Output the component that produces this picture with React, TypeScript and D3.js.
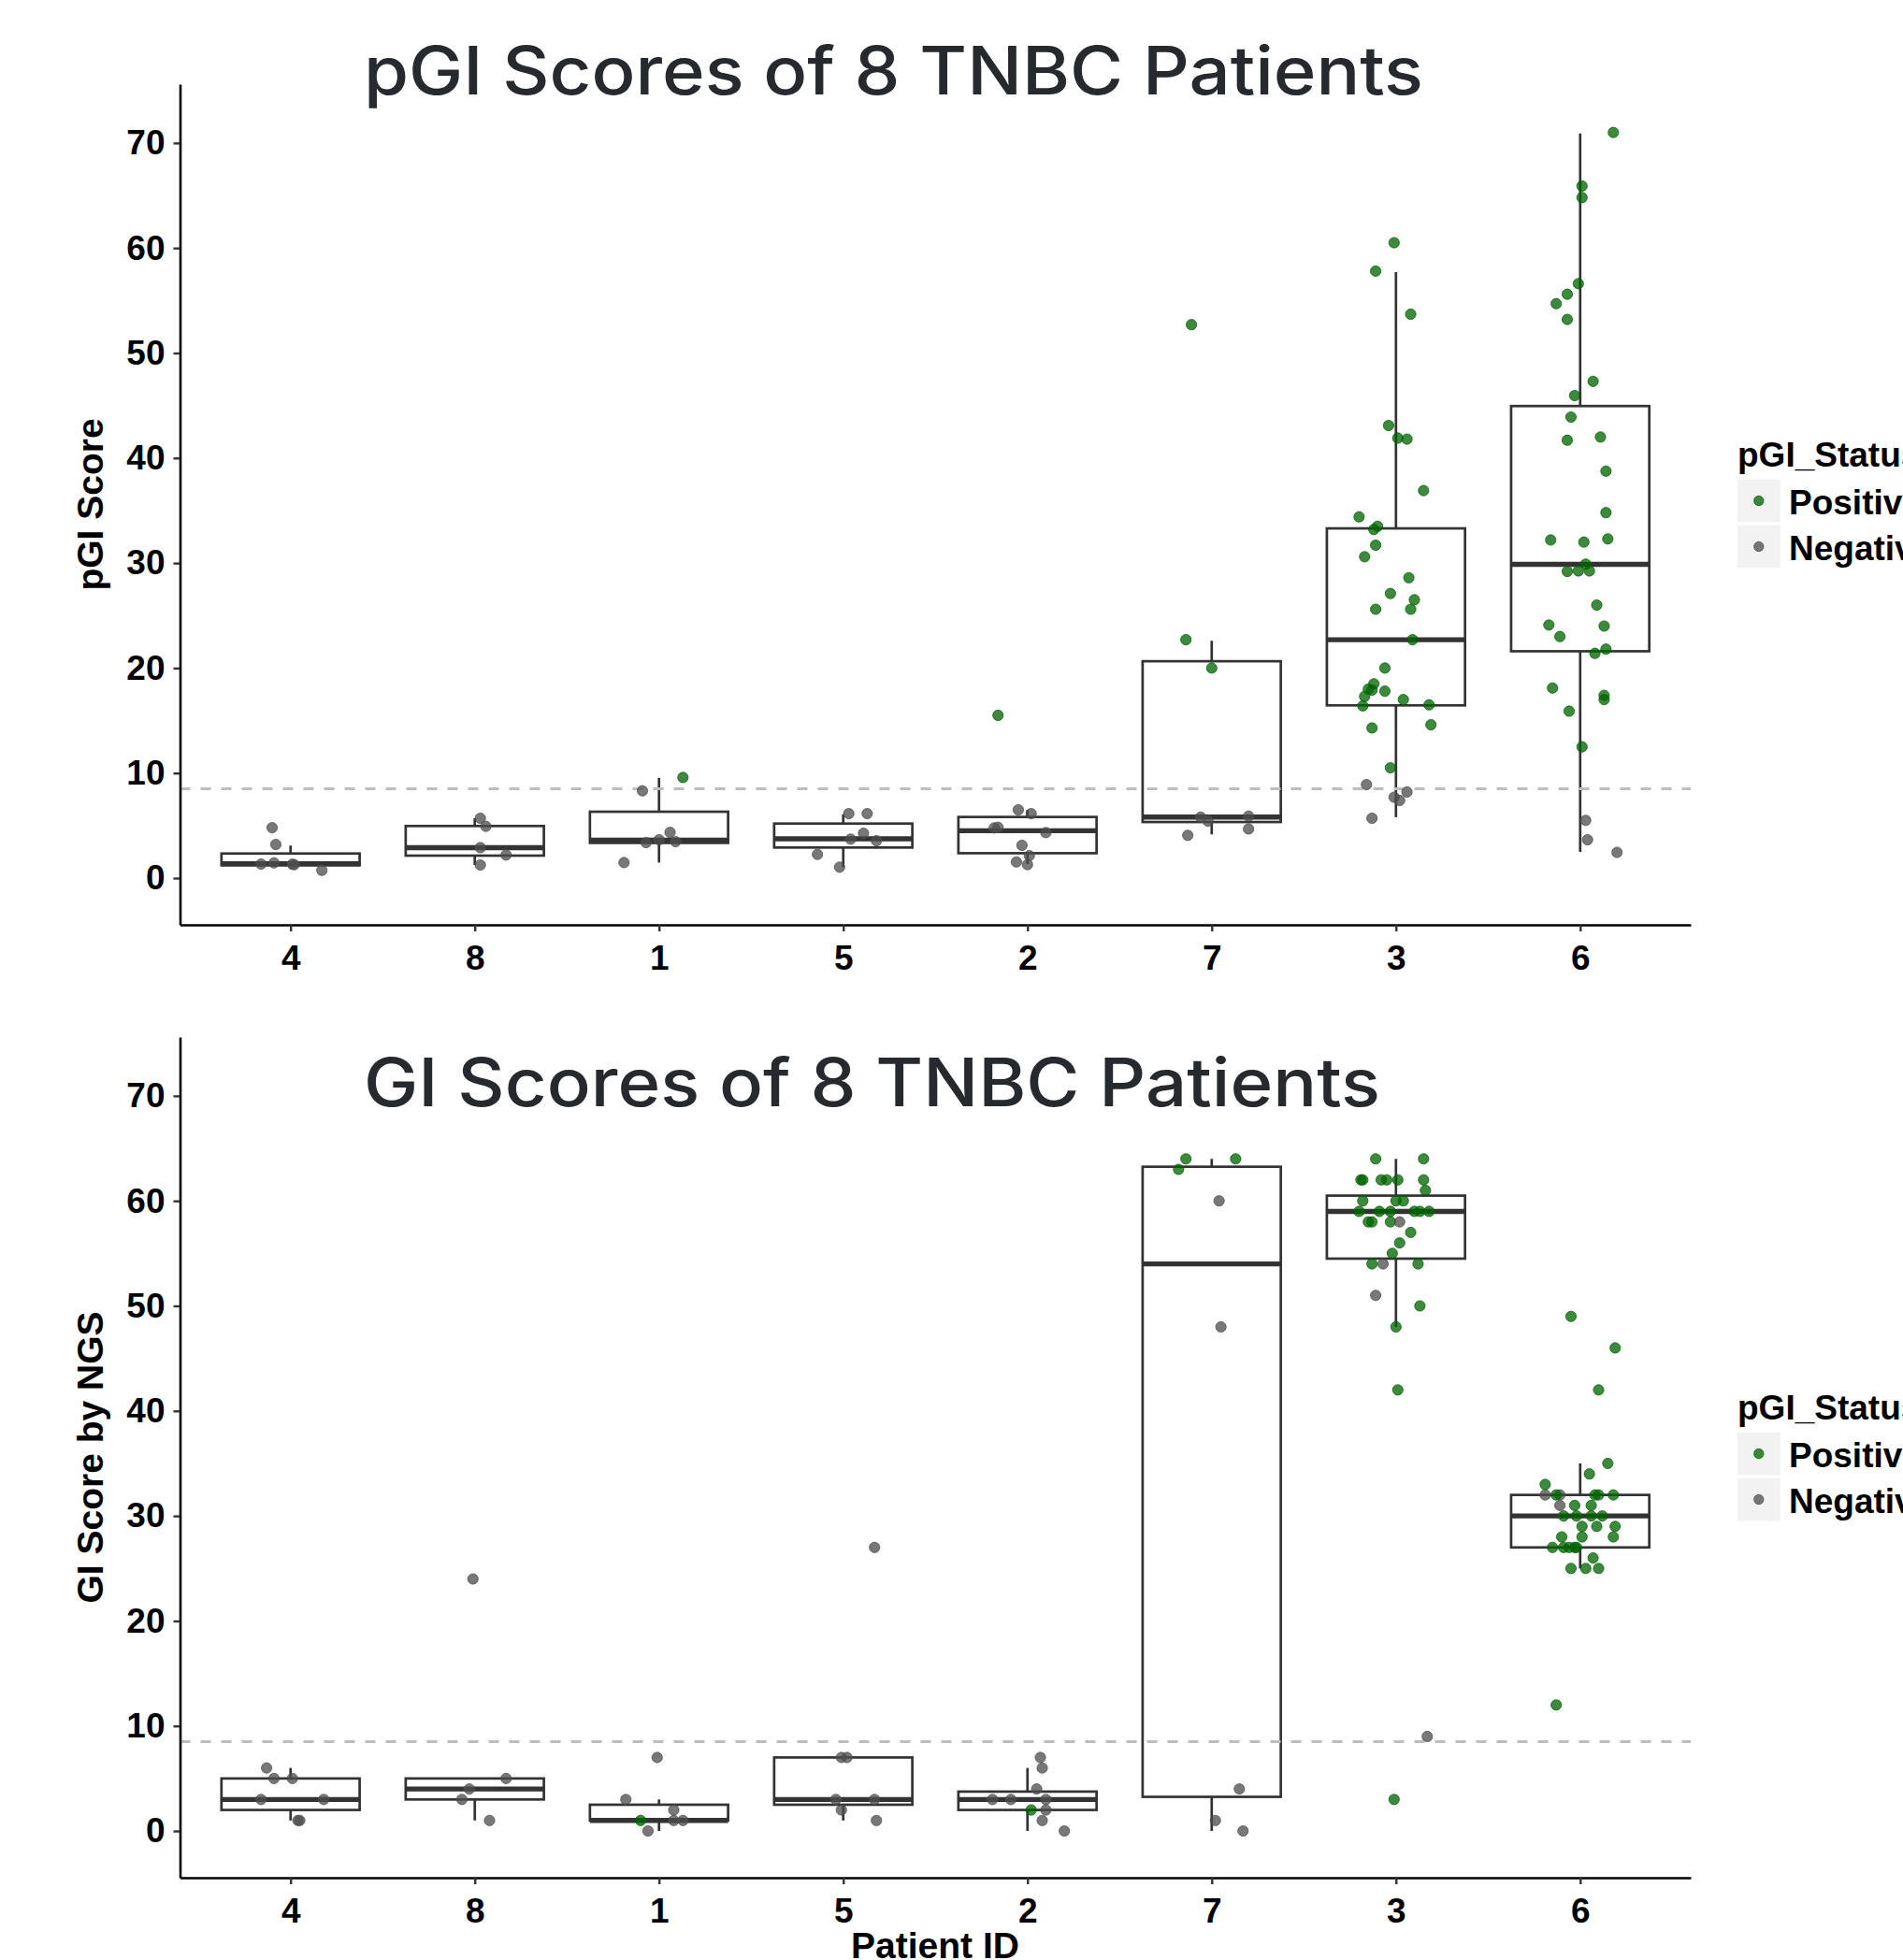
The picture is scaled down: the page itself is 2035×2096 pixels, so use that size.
import * as d3 from 'd3'
import { useRef, useEffect } from 'react'

const patients = ['4', '8', '1', '5', '2', '7', '3', '6']
const yTicks = [0, 10, 20, 30, 40, 50, 60, 70]
const statusLevels = ['Positive', 'Negative']
const threshold = 8.5

// box stats, one value per patient (same order as `patients`)
const pgiLower = [1.22, 1.25, 1.48, 1.04, 1.34, 4.16, 5.8, 2.5]
const pgiQ1 = [1.22, 2.14, 3.35, 2.91, 2.37, 5.34, 16.45, 21.6]
const pgiMedian = [1.37, 2.9, 3.62, 3.74, 4.51, 5.81, 22.7, 29.87]
const pgiQ3 = [2.34, 4.96, 6.32, 5.19, 5.82, 20.65, 33.3, 44.95]
const pgiUpper = [3.1, 5.7, 9.55, 6.08, 6.5, 22.6, 57.7, 70.9]

const giLower = [1, 1, 0, 1, 0, 0, 48, 25]
const giQ1 = [2, 3, 1, 2.5, 2, 3.25, 54.5, 27]
const giMedian = [3, 4, 1, 3, 3, 54, 59, 30]
const giQ3 = [5, 5, 2.5, 7, 3.75, 63.25, 60.5, 32]
const giUpper = [6, 5, 3, 7, 6, 64, 64, 35]

// [patient, score, status, jitter (fraction of category step)]
const pgiPoints = [
  ['4', 4.8, 'N', -0.1], ['4', 3.2, 'N', -0.08], ['4', 1.34, 'N', -0.16], ['4', 1.45, 'N', -0.09],
  ['4', 1.32, 'N', 0.01], ['4', 1.28, 'N', 0.02], ['4', 0.74, 'N', 0.17],
  ['8', 5.7, 'N', 0.03], ['8', 4.93, 'N', 0.06], ['8', 2.9, 'N', 0.03], ['8', 2.2, 'N', 0.17], ['8', 1.25, 'N', 0.03],
  ['1', 9.58, 'P', 0.13], ['1', 8.31, 'N', -0.09], ['1', 4.36, 'N', 0.06], ['1', 3.38, 'N', -0.07],
  ['1', 3.65, 'N', 0], ['1', 3.47, 'N', 0.09], ['1', 1.48, 'N', -0.19],
  ['5', 6.14, 'N', 0.03], ['5', 6.14, 'N', 0.13], ['5', 4.27, 'N', 0.11], ['5', 3.71, 'N', 0.04],
  ['5', 3.56, 'N', 0.18], ['5', 2.26, 'N', -0.14], ['5', 1.04, 'N', -0.02],
  ['2', 15.5, 'P', -0.16], ['2', 6.5, 'N', -0.05], ['2', 6.14, 'N', 0.02], ['2', 4.78, 'N', -0.18],
  ['2', 4.84, 'N', -0.16], ['2', 4.33, 'N', 0.1], ['2', 3.12, 'N', -0.03], ['2', 2.14, 'N', 0.01],
  ['2', 1.54, 'N', -0.06], ['2', 1.28, 'N', 0],
  ['7', 52.7, 'P', -0.11], ['7', 22.7, 'P', -0.14], ['7', 20.0, 'P', 0], ['7', 5.8, 'N', -0.06],
  ['7', 5.43, 'N', -0.02], ['7', 5.9, 'N', 0.2], ['7', 4.68, 'N', 0.2], ['7', 4.07, 'N', -0.13],
  ['3', 60.5, 'P', -0.01], ['3', 57.8, 'P', -0.11], ['3', 53.7, 'P', 0.08], ['3', 43.1, 'P', -0.04],
  ['3', 41.9, 'P', 0.01], ['3', 41.8, 'P', 0.06], ['3', 36.9, 'P', 0.15], ['3', 34.4, 'P', -0.2],
  ['3', 33.5, 'P', -0.1], ['3', 33.2, 'P', -0.12], ['3', 31.7, 'P', -0.11], ['3', 30.6, 'P', -0.17],
  ['3', 28.6, 'P', 0.07], ['3', 27.1, 'P', -0.03], ['3', 26.5, 'P', 0.1], ['3', 25.6, 'P', -0.11],
  ['3', 25.6, 'P', 0.08], ['3', 22.7, 'P', 0.09], ['3', 20.0, 'P', -0.06], ['3', 18.5, 'P', -0.12],
  ['3', 18.0, 'P', -0.15], ['3', 17.9, 'P', -0.13], ['3', 17.3, 'P', -0.17], ['3', 17.8, 'P', -0.06],
  ['3', 17.0, 'P', 0.04], ['3', 16.4, 'P', -0.18], ['3', 16.5, 'P', 0.18], ['3', 14.6, 'P', 0.19],
  ['3', 14.3, 'P', -0.13], ['3', 10.5, 'P', -0.03],
  ['3', 8.9, 'N', -0.16], ['3', 8.2, 'N', 0.06], ['3', 7.7, 'N', -0.01], ['3', 7.4, 'N', 0.02], ['3', 5.7, 'N', -0.13],
  ['6', 71.0, 'P', 0.18], ['6', 65.9, 'P', 0.01], ['6', 64.8, 'P', 0.01], ['6', 56.6, 'P', -0.01],
  ['6', 55.6, 'P', -0.07], ['6', 54.7, 'P', -0.13], ['6', 53.2, 'P', -0.07], ['6', 47.3, 'P', 0.07],
  ['6', 45.95, 'P', -0.03], ['6', 43.9, 'P', -0.05], ['6', 41.7, 'P', -0.07], ['6', 42.0, 'P', 0.11],
  ['6', 38.75, 'P', 0.14], ['6', 34.8, 'P', 0.14], ['6', 32.2, 'P', -0.16], ['6', 32.0, 'P', 0.02],
  ['6', 32.3, 'P', 0.15], ['6', 29.9, 'P', 0.03], ['6', 29.2, 'P', -0.07], ['6', 29.25, 'P', -0.01],
  ['6', 29.25, 'P', 0.05], ['6', 26.0, 'P', 0.09], ['6', 24.1, 'P', -0.17], ['6', 24.0, 'P', 0.13],
  ['6', 23.0, 'P', -0.11], ['6', 21.4, 'P', 0.08], ['6', 21.8, 'P', 0.14], ['6', 18.1, 'P', -0.15],
  ['6', 17.4, 'P', 0.13], ['6', 17.0, 'P', 0.13], ['6', 15.9, 'P', -0.06], ['6', 12.5, 'P', 0.01],
  ['6', 5.5, 'N', 0.03], ['6', 3.65, 'N', 0.04], ['6', 2.45, 'N', 0.2]
]

const giPoints = [
  ['4', 6, 'N', -0.13], ['4', 5, 'N', -0.09], ['4', 5, 'N', 0.01], ['4', 3, 'N', -0.16],
  ['4', 3, 'N', 0.18], ['4', 1, 'N', 0.04], ['4', 1, 'N', 0.05],
  ['8', 24, 'N', -0.01], ['8', 5, 'N', 0.17], ['8', 4, 'N', -0.03], ['8', 3, 'N', -0.07], ['8', 1, 'N', 0.08],
  ['1', 7, 'N', -0.01], ['1', 3, 'N', -0.18], ['1', 2, 'N', 0.08], ['1', 1, 'P', -0.1],
  ['1', 1, 'N', 0.08], ['1', 1, 'N', 0.13], ['1', 0, 'N', -0.06],
  ['5', 27, 'N', 0.17], ['5', 7, 'N', -0.01], ['5', 7, 'N', 0.02], ['5', 3, 'N', -0.04],
  ['5', 3, 'N', 0.17], ['5', 2, 'N', -0.01], ['5', 1, 'N', 0.18],
  ['2', 7, 'N', 0.07], ['2', 6, 'N', 0.08], ['2', 4, 'N', 0.05], ['2', 3, 'N', -0.19],
  ['2', 3, 'N', -0.09], ['2', 3, 'N', 0.1], ['2', 2, 'P', 0.02], ['2', 2, 'N', 0.1],
  ['2', 1, 'N', 0.08], ['2', 0, 'N', 0.2],
  ['7', 64, 'P', -0.14], ['7', 64, 'P', 0.13], ['7', 63, 'P', -0.18], ['7', 60, 'N', 0.04],
  ['7', 48, 'N', 0.05], ['7', 4, 'N', 0.15], ['7', 1, 'N', 0.02], ['7', 0, 'N', 0.17],
  ['3', 64, 'P', -0.11], ['3', 64, 'P', 0.15],
  ['3', 62, 'P', -0.19], ['3', 62, 'P', -0.18], ['3', 62, 'P', -0.08], ['3', 62, 'P', -0.05],
  ['3', 62, 'P', 0.01], ['3', 62, 'P', 0.15], ['3', 61, 'P', 0.16],
  ['3', 60, 'P', -0.18], ['3', 60, 'P', 0], ['3', 60, 'P', 0.04],
  ['3', 59, 'P', -0.2], ['3', 59, 'P', -0.09], ['3', 59, 'P', -0.03], ['3', 59, 'P', 0.1],
  ['3', 59, 'P', 0.13], ['3', 59, 'P', 0.18],
  ['3', 58, 'P', -0.15], ['3', 58, 'P', -0.13], ['3', 58, 'P', -0.03], ['3', 58, 'N', 0.02],
  ['3', 57, 'P', 0.08], ['3', 56, 'P', 0.02], ['3', 55, 'P', -0.02],
  ['3', 54, 'P', -0.13], ['3', 54, 'N', -0.07], ['3', 54, 'P', 0.12],
  ['3', 51, 'N', -0.11], ['3', 50, 'P', 0.13], ['3', 48, 'P', 0], ['3', 42, 'P', 0.01],
  ['3', 9, 'N', 0.17], ['3', 3, 'P', -0.01],
  ['6', 49, 'P', -0.05], ['6', 46, 'P', 0.19], ['6', 42, 'P', 0.1], ['6', 35, 'P', 0.15],
  ['6', 34, 'P', 0.05], ['6', 33, 'P', -0.19],
  ['6', 32, 'N', -0.19], ['6', 32, 'N', -0.11], ['6', 32, 'P', -0.13], ['6', 32, 'P', 0.08],
  ['6', 32, 'P', 0.1], ['6', 32, 'P', 0.18],
  ['6', 31, 'N', -0.11], ['6', 31, 'P', -0.03], ['6', 31, 'P', 0.06],
  ['6', 30, 'P', -0.09], ['6', 30, 'P', -0.02], ['6', 30, 'P', 0.06], ['6', 30, 'P', 0.12],
  ['6', 29, 'P', 0.01], ['6', 29, 'P', 0.09], ['6', 29, 'P', 0.19],
  ['6', 28, 'P', -0.1], ['6', 28, 'P', 0.01], ['6', 28, 'P', 0.18],
  ['6', 27, 'P', -0.15], ['6', 27, 'P', -0.09], ['6', 27, 'P', -0.06], ['6', 27, 'P', -0.03], ['6', 27, 'P', -0.02],
  ['6', 26, 'P', 0.07], ['6', 25, 'P', -0.05], ['6', 25, 'P', 0.03], ['6', 25, 'P', 0.1],
  ['6', 12, 'P', -0.13]
]

const labelFont = '"Liberation Sans", Arial, sans-serif'
const titleFont = 'Inter, "Noto Sans", sans-serif'

const color = d3.scaleOrdinal().domain(['P', 'N']).range(['#006400', '#4d4d4d'])

const panels = [
  {
    top: 90, bottom: 989, points: pgiPoints,
    stats: [pgiLower, pgiQ1, pgiMedian, pgiQ3, pgiUpper],
    yTitle: 'pGI Score', title: 'pGI Scores of 8 TNBC Patients', titleY: 101, titleW: 1133,
    legendY: 499, xTitle: null
  },
  {
    top: 1109, bottom: 2008, points: giPoints,
    stats: [giLower, giQ1, giMedian, giQ3, giUpper],
    yTitle: 'GI Score by NGS', title: 'GI Scores of 8 TNBC Patients', titleY: 1183, titleW: 1087,
    legendY: 1518, xTitle: 'Patient ID'
  }
]

const App = () => {
  const ref = useRef(null)

  useEffect(() => {
    const svg = d3.select(ref.current)
    svg.selectAll('*').remove()
    panels.forEach((p) => drawPanel(svg, p))
  }, [])

  const drawPanel = (svg, p) => {
    const [lower, q1, median, q3, upper] = p.stats
    const x = d3.scalePoint().domain(patients).range([192.5, 1808]).padding(0.6)
    const y = d3.scaleLinear().domain([-4.45, 75.6]).range([p.bottom, p.top])
    const bw = x.step() * 0.75
    const g = svg.append('g')

    // boxes
    const boxes = g.append('g').selectAll('g').data(patients).enter().append('g')
    boxes.append('line')
      .attr('x1', (d) => x(d)).attr('x2', (d) => x(d))
      .attr('y1', (d, i) => y(upper[i])).attr('y2', (d, i) => y(q3[i]))
      .attr('stroke', '#333').attr('stroke-width', 2.7)
    boxes.append('line')
      .attr('x1', (d) => x(d)).attr('x2', (d) => x(d))
      .attr('y1', (d, i) => y(q1[i])).attr('y2', (d, i) => y(lower[i]))
      .attr('stroke', '#333').attr('stroke-width', 2.7)
    boxes.append('rect')
      .attr('x', (d) => x(d) - bw / 2).attr('width', bw)
      .attr('y', (d, i) => y(q3[i])).attr('height', (d, i) => y(q1[i]) - y(q3[i]))
      .attr('fill', 'white').attr('stroke', '#333').attr('stroke-width', 2.7)
    boxes.append('line')
      .attr('x1', (d) => x(d) - bw / 2).attr('x2', (d) => x(d) + bw / 2)
      .attr('y1', (d, i) => y(median[i])).attr('y2', (d, i) => y(median[i]))
      .attr('stroke', '#333').attr('stroke-width', 5.4)

    // threshold line
    g.append('line')
      .attr('x1', 192.5).attr('x2', 1808)
      .attr('y1', y(threshold)).attr('y2', y(threshold))
      .attr('stroke', '#bdbdbd').attr('stroke-width', 3).attr('stroke-dasharray', '11,11')

    // jittered points
    g.append('g').selectAll('circle').data(p.points).enter().append('circle')
      .attr('cx', (d) => x(d[0]) + d[3] * x.step())
      .attr('cy', (d) => y(d[1]))
      .attr('r', 5.6)
      .attr('fill', (d) => color(d[2])).attr('fill-opacity', 0.76)
      .attr('stroke', (d) => color(d[2])).attr('stroke-opacity', 0.76).attr('stroke-width', 1)

    // axes
    const yAxis = g.append('g').attr('transform', 'translate(192.5,0)')
      .call(d3.axisLeft(y).tickValues(yTicks).tickSize(7).tickSizeOuter(0).tickPadding(9))
    const xAxis = g.append('g').attr('transform', `translate(0,${p.bottom})`)
      .call(d3.axisBottom(x).tickSize(7).tickSizeOuter(0).tickPadding(15))
    ;[yAxis, xAxis].forEach((a) => {
      a.select('.domain').attr('stroke', '#000').attr('stroke-width', 2.6)
      a.selectAll('.tick line').attr('stroke', '#333').attr('stroke-width', 2.4)
      a.selectAll('text').attr('fill', '#000').style('font-family', labelFont)
        .style('font-weight', 'bold').style('font-size', '37px')
    })

    // y title
    g.append('text')
      .attr('transform', `translate(110,${(p.top + p.bottom) / 2}) rotate(-90)`)
      .attr('text-anchor', 'middle')
      .style('font-family', labelFont).style('font-weight', 'bold').style('font-size', '39px')
      .text(p.yTitle)

    if (p.xTitle) {
      g.append('text')
        .attr('x', 1000).attr('y', 2094).attr('text-anchor', 'middle')
        .style('font-family', labelFont).style('font-weight', 'bold').style('font-size', '39px')
        .text(p.xTitle)
    }

    // chart title
    g.append('text')
      .attr('x', 389).attr('y', p.titleY)
      .attr('textLength', p.titleW).attr('lengthAdjust', 'spacingAndGlyphs')
      .attr('fill', '#262a2e')
      .style('font-family', titleFont).style('font-weight', 500).style('font-size', '71px')
      .text(p.title)

    // legend
    const lg = g.append('g').attr('transform', `translate(1858,${p.legendY})`)
    lg.append('text')
      .style('font-family', labelFont).style('font-weight', 'bold').style('font-size', '37px')
      .text('pGI_Status')
    const keys = lg.selectAll('g.key').data(statusLevels).enter().append('g')
      .attr('transform', (d, i) => `translate(0,${13.7 + i * 49})`)
    keys.append('rect').attr('width', 45.7).attr('height', 45.7).attr('fill', '#f2f2f2')
    keys.append('circle').attr('cx', 22.8).attr('cy', 22.8).attr('r', 5.2)
      .attr('fill', (d) => color(d[0])).attr('fill-opacity', 0.76)
      .attr('stroke', (d) => color(d[0])).attr('stroke-opacity', 0.76)
    keys.append('text').attr('x', 55).attr('y', 37.5)
      .style('font-family', labelFont).style('font-weight', 'bold').style('font-size', '37px')
      .text((d) => d)
  }

  return (
    <svg ref={ref} width={2035} height={2096}
      style={{ position: 'absolute', left: 0, top: 0, background: '#fff' }} />
  )
}

export default App
